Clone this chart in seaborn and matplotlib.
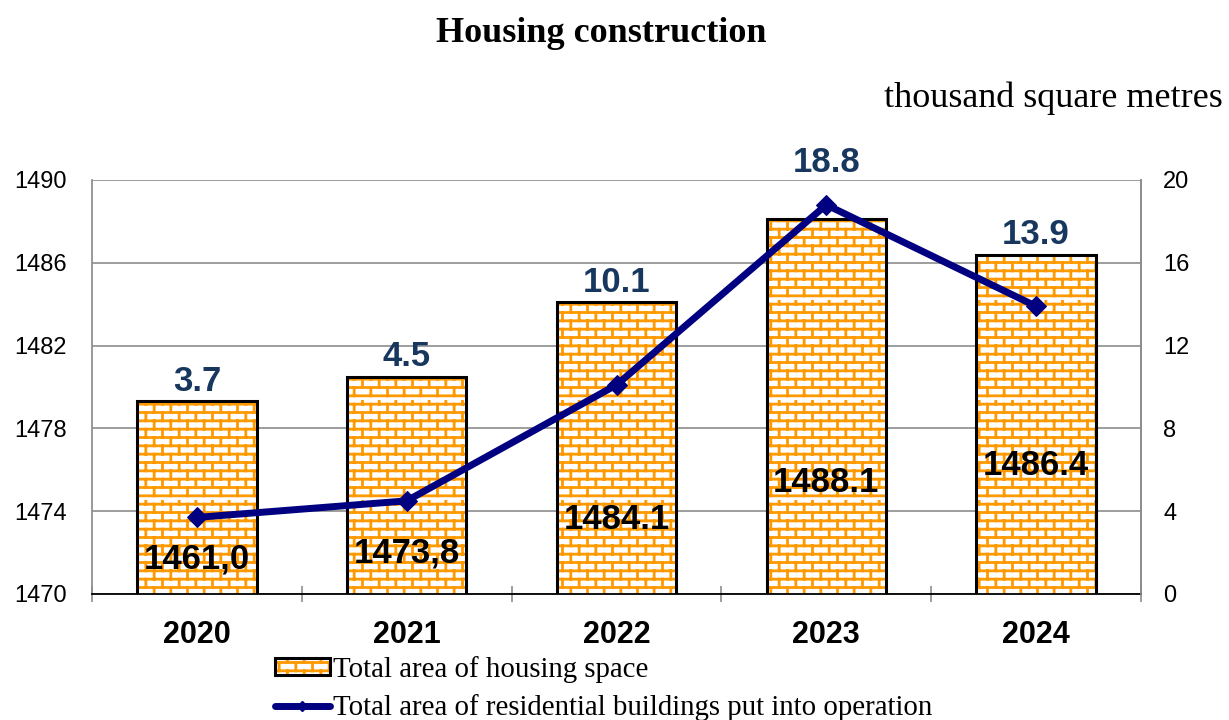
import numpy as np
import matplotlib
matplotlib.use("Agg")
import matplotlib.pyplot as plt
import seaborn as sns
from matplotlib import hatch as mhatch
from matplotlib.path import Path
from matplotlib.patches import Patch
from matplotlib.lines import Line2D
from matplotlib.ticker import FixedLocator
from matplotlib.legend_handler import HandlerTuple

# ---------------- data ----------------
years = ["2020", "2021", "2022", "2023", "2024"]
housing_area = [1479.3, 1480.5, 1484.1, 1488.1, 1486.4]          # bar heights as drawn
housing_labels = ["1461,0", "1473,8", "1484.1", "1488.1", "1486.4"]
put_into_operation = [3.7, 4.5, 10.1, 18.8, 13.9]
operation_labels = ["3.7", "4.5", "10.1", "18.8", "13.9"]
left_ticks = [1470, 1474, 1478, 1482, 1486, 1490]
right_ticks = [0, 4, 8, 12, 16, 20]
# vertical placement of the in-bar labels (left-axis units)
inner_label_pos = [1471.7, 1472.0, 1473.6, 1475.4, 1476.2]

title = "Housing construction"
units = "thousand square metres"
legend_labels = ["Total area of housing space",
                 "Total area of residential buildings put into operation"]

# ---------------- brick hatch ----------------
class BrickHatch(mhatch.HatchPatternBase):
    def __init__(self, hatch, density):
        self.rows = 12 if "+" in hatch else 0
        self.cols = 6
        self.num_vertices = self.rows * (1 + self.cols) * 2

    def set_vertices_and_codes(self, vertices, codes):
        k = 0
        for i in range(self.rows):
            y0 = (i + 0.5) / self.rows
            y1 = (i + 1.5) / self.rows
            vertices[k] = (0.0, y0)
            vertices[k + 1] = (1.0, y0)
            codes[k] = Path.MOVETO
            codes[k + 1] = Path.LINETO
            k += 2
            off = 0.25 / self.cols if i % 2 == 0 else 0.75 / self.cols
            for j in range(self.cols):
                x = j / self.cols + off
                vertices[k] = (x, y0)
                vertices[k + 1] = (x, min(y1, 1.0))
                codes[k] = Path.MOVETO
                codes[k + 1] = Path.LINETO
                k += 2

mhatch._hatch_types[:] = [BrickHatch]

# ---------------- style ----------------
sns.set_theme(style="white")
plt.rcParams["font.family"] = ["Liberation Sans", "DejaVu Sans"]
plt.rcParams["hatch.linewidth"] = 2.0
plt.rcParams["text.color"] = "black"
plt.rcParams["axes.labelcolor"] = "black"
plt.rcParams["xtick.color"] = "black"
plt.rcParams["ytick.color"] = "black"

ORANGE = "#FF9900"
NAVY = "#000080"
LABEL_BLUE = "#17375E"
GRID = "#8C8C8C"

fig = plt.figure(figsize=(12.29, 7.2), dpi=100)
ax = fig.add_axes([92 / 1229, 1 - 594 / 720, (1141 - 92) / 1229, (594 - 180) / 720])

sns.barplot(x=years, y=housing_area, ax=ax, color="white", saturation=1,
            edgecolor=ORANGE, linewidth=0, hatch="+", width=0.57, zorder=2)
n_hatched = len(ax.patches)
sns.barplot(x=years, y=housing_area, ax=ax, color="black", fill=False, saturation=1,
            edgecolor="black", linewidth=2.2, width=0.57, zorder=3)
for p in ax.patches[n_hatched:]:
    p.set_facecolor("none")
    p.set_edgecolor("black")
    p.set_linewidth(2.2)

ax.set_ylim(1470, 1490)
ax.set_xlim(-0.5, len(years) - 0.5)
ax.set_yticks(left_ticks)
ax.set_yticklabels([str(t) for t in left_ticks])
ax.yaxis.grid(True, color=GRID, linewidth=1.2)
ax.set_axisbelow(True)
ax.tick_params(axis="y", length=0, pad=18, labelsize=17, labelcolor="black")
ax.tick_params(axis="x", which="major", length=0, pad=19, labelsize=22, labelcolor="black")
for lab in ax.get_xticklabels():
    lab.set_fontweight("bold")
ax.xaxis.set_minor_locator(FixedLocator(np.arange(-0.5, len(years), 1.0)))
ax.tick_params(axis="x", which="minor", direction="inout", length=12, width=1.2,
               color=GRID, bottom=True)
ax.spines["top"].set_visible(False)
ax.spines["left"].set_color(GRID)
ax.spines["right"].set_color(GRID)
ax.spines["bottom"].set_color("black")
ax.spines["bottom"].set_linewidth(1.3)
ax.set_xlabel("")
ax.set_ylabel("")

# inner labels
for i, (lab, yv) in enumerate(zip(housing_labels, inner_label_pos)):
    ax.text(i, yv, lab, ha="center", va="center", fontsize=25, fontweight="bold",
            color="black", zorder=5)

# ---------------- line on right axis ----------------
ax2 = ax.twinx()
sns.lineplot(x=years, y=put_into_operation, ax=ax2, color=NAVY, linewidth=5,
             marker="D", markersize=10.5, markeredgecolor=NAVY, sort=False, zorder=4)
ax2.set_ylim(0, 20)
ax2.set_yticks(right_ticks)
ax2.set_yticklabels([str(t) for t in right_ticks])
ax2.tick_params(axis="y", length=0, pad=16, labelsize=17, labelcolor="black")
ax2.grid(False)
for s in ["top", "left", "bottom"]:
    ax2.spines[s].set_visible(False)
ax2.spines["right"].set_color(GRID)
ax2.set_ylabel("")

# value labels above bars / points
for i, (lab, area, op) in enumerate(zip(operation_labels, housing_area, put_into_operation)):
    bar_top = ax.transData.transform((i, area))[1]
    pt = ax2.transData.transform((i, op))[1]
    y_disp = max(bar_top + 20, pt + 42)
    y_data = ax2.transData.inverted().transform((0, y_disp))[1]
    ax2.text(i, y_data, lab, ha="center", va="center", fontsize=25,
             fontweight="bold", color=LABEL_BLUE, zorder=6, clip_on=False)

# ---------------- titles ----------------
fig.text(601 / 1229, 1 - 33 / 720, title, ha="center", va="center", color="black",
         fontsize=26, fontweight="bold", family=["Liberation Serif", "DejaVu Serif"])
fig.text(1223 / 1229, 1 - 98 / 720, units, ha="right", va="center", color="black",
         fontsize=26, family=["Liberation Serif", "DejaVu Serif"])

# ---------------- legend ----------------
h_fill = Patch(facecolor="white", edgecolor=ORANGE, hatch="+", linewidth=0)
h_edge = Patch(facecolor="none", edgecolor="black", linewidth=2.2)
h_line = Line2D([], [], color=NAVY, linewidth=5, marker="D", markersize=5,
                solid_capstyle="round")
leg = fig.legend([(h_fill, h_edge), h_line], legend_labels,
                 handler_map={tuple: HandlerTuple(ndivide=1, pad=0)},
                 loc="upper left", bbox_to_anchor=(275 / 1229, 1 - 656 / 720),
                 bbox_transform=fig.transFigure, frameon=False, borderpad=0,
                 borderaxespad=0, handlelength=1.9, handleheight=0.5,
                 handletextpad=0.1, labelspacing=0.38,
                 prop={"family": ["Liberation Serif", "DejaVu Serif"], "size": 20.8})
for t in leg.get_texts():
    t.set_color("black")

fig.savefig("out.png", dpi=100)
